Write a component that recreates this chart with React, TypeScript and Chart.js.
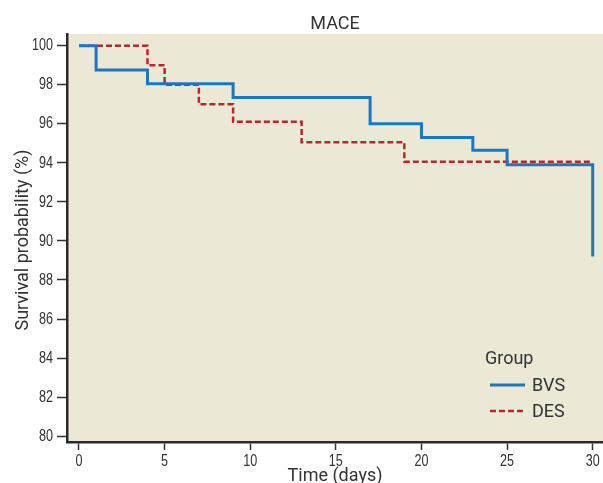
import React, { useEffect, useRef } from 'react';
import { Chart, registerables } from 'chart.js';

Chart.register(...registerables);

// ---- data ----
const chartTitle = 'MACE';
const xAxisTitle = 'Time (days)';
const yAxisTitle = 'Survival probability (%)';
const legendTitle = 'Group';
const groupNames = ['BVS', 'DES'];

const timeTicks = [0, 5, 10, 15, 20, 25, 30];
const survivalTicks = [80, 82, 84, 86, 88, 90, 92, 94, 96, 98, 100];

const bvsTimes = [0, 1, 4, 9, 17, 20, 23, 25, 30, 30];
const bvsSurvival = [100, 98.75, 98.05, 97.35, 96.0, 95.3, 94.65, 93.9, 93.9, 89.2];

const desTimes = [0, 4, 5, 7, 9, 13, 19, 30];
const desSurvival = [100, 99.0, 98.0, 97.0, 96.1, 95.05, 94.05, 94.05];

const BLUE = '#1c77c0';
const RED = '#b8262e';
const BG = '#ece8d6';
const INK = '#333333';
const SANS = 'Roboto, "Liberation Sans", sans-serif';
const TICKFONT = '"Liberation Sans", Arial, sans-serif';
const SQUEEZE = 0.74;

const decorPlugin = {
  id: 'decor',
  beforeDraw(chart: any) {
    const { ctx, chartArea } = chart;
    ctx.save();
    ctx.fillStyle = '#ffffff';
    ctx.fillRect(0, 0, chart.width, chart.height);
    ctx.fillStyle = BG;
    ctx.fillRect(chartArea.left, chartArea.top, chartArea.right - chartArea.left, chartArea.bottom - chartArea.top);
    ctx.restore();
  },
  afterDraw(chart: any) {
    const { ctx, chartArea, scales } = chart;
    ctx.save();

    // condensed tick labels, placed through the library's scales
    ctx.fillStyle = INK;
    ctx.font = `17px ${TICKFONT}`;
    ctx.textBaseline = 'middle';
    for (const t of scales.y.ticks) {
      const py = scales.y.getPixelForValue(t.value);
      ctx.save();
      ctx.translate(53, py);
      ctx.scale(SQUEEZE, 1);
      ctx.textAlign = 'right';
      ctx.fillText(String(t.value), 0, 0);
      ctx.restore();
    }
    for (const t of scales.x.ticks) {
      const px = scales.x.getPixelForValue(t.value);
      ctx.save();
      ctx.translate(px, 461);
      ctx.scale(SQUEEZE, 1);
      ctx.textAlign = 'center';
      ctx.fillText(String(t.value), 0, 0);
      ctx.restore();
    }

    ctx.font = `18px ${SANS}`;
    ctx.textAlign = 'center';
    ctx.textBaseline = 'alphabetic';
    // title
    ctx.fillText(chartTitle, (chartArea.left + chartArea.right) / 2, 29);
    // x title
    ctx.fillText(xAxisTitle, (chartArea.left + chartArea.right) / 2, 481);
    // y title
    ctx.save();
    ctx.translate(28, 240);
    ctx.rotate(-Math.PI / 2);
    ctx.fillText(yAxisTitle, 0, 0);
    ctx.restore();

    // legend
    ctx.textAlign = 'left';
    ctx.textBaseline = 'middle';
    ctx.fillText(legendTitle, 485, 359);
    const rows = [
      { name: groupNames[0], color: BLUE, dash: [] as number[], width: 3, y: 385 },
      { name: groupNames[1], color: RED, dash: [6, 3], width: 2.5, y: 411 },
    ];
    for (const r of rows) {
      ctx.save();
      ctx.strokeStyle = r.color;
      ctx.lineWidth = r.width;
      ctx.setLineDash(r.dash);
      ctx.beginPath();
      ctx.moveTo(490, r.y);
      ctx.lineTo(525, r.y);
      ctx.stroke();
      ctx.restore();
      ctx.fillStyle = INK;
      ctx.fillText(r.name, 532, r.y + 1);
    }
    ctx.restore();
  },
};

export default function App() {
  const canvasRef = useRef<HTMLCanvasElement | null>(null);

  useEffect(() => {
    const canvas = canvasRef.current;
    if (!canvas) return;
    const chart = new Chart(canvas, {
      type: 'line',
      data: {
        datasets: [
          {
            label: groupNames[0],
            data: bvsTimes.map((t, i) => ({ x: t, y: bvsSurvival[i] })),
            borderColor: BLUE,
            borderWidth: 3,
            pointRadius: 0,
            stepped: 'before',
            fill: false,
          },
          {
            label: groupNames[1],
            data: desTimes.map((t, i) => ({ x: t, y: desSurvival[i] })),
            borderColor: RED,
            borderWidth: 2.5,
            borderDash: [6, 3],
            pointRadius: 0,
            stepped: 'before',
            fill: false,
          },
        ],
      },
      options: {
        responsive: false,
        animation: false,
        devicePixelRatio: 1,
        layout: { padding: { top: 34, left: 0, right: 0, bottom: 0 } },
        plugins: {
          legend: { display: false },
          title: { display: false },
          tooltip: { enabled: false },
        },
        scales: {
          x: {
            type: 'linear',
            min: -0.7,
            max: 30.6,
            afterFit: (scale: any) => {
              scale.height = 41;
              scale.paddingLeft = 0;
              scale.paddingRight = 0;
            },
            afterBuildTicks: (scale: any) => {
              scale.ticks = timeTicks.map((v) => ({ value: v }));
            },
            border: { display: true, color: '#2a2a2a', width: 2.5 },
            grid: {
              display: true,
              drawOnChartArea: false,
              drawTicks: true,
              tickLength: 8,
              tickColor: INK,
              tickWidth: 1.5,
            },
            ticks: { display: false },
          },
          y: {
            type: 'linear',
            min: 79.7,
            max: 100.6,
            afterFit: (scale: any) => {
              scale.width = 67;
              scale.paddingTop = 0;
              scale.paddingBottom = 0;
            },
            afterBuildTicks: (scale: any) => {
              scale.ticks = survivalTicks.map((v) => ({ value: v }));
            },
            border: { display: true, color: '#2a2a2a', width: 2.5 },
            grid: {
              display: true,
              drawOnChartArea: false,
              drawTicks: true,
              tickLength: 10,
              tickColor: INK,
              tickWidth: 1.5,
            },
            ticks: { display: false },
          },
        },
      },
      plugins: [decorPlugin],
    } as any);
    return () => chart.destroy();
  }, []);

  return (
    <div style={{ position: 'fixed', left: 0, top: 0, width: 603, height: 483 }}>
      <canvas ref={canvasRef} width={603} height={483} style={{ width: 603, height: 483 }} />
    </div>
  );
}
